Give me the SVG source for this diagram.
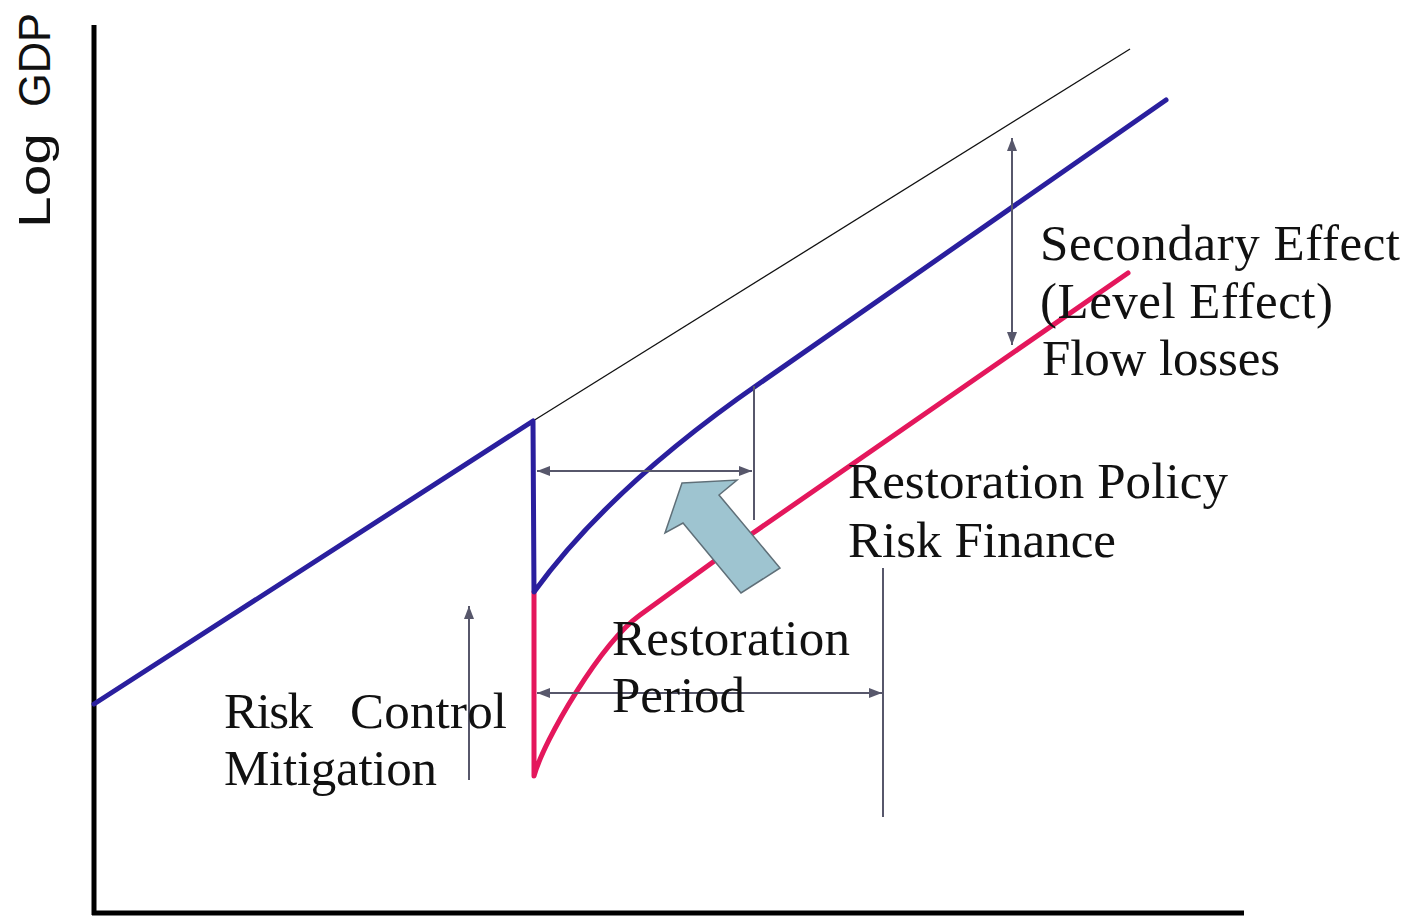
<svg xmlns="http://www.w3.org/2000/svg" width="1406" height="916" viewBox="0 0 1406 916">
<defs>
<style>
.lbl{font-family:"Liberation Serif","Times New Roman",serif;font-size:51px;fill:#111;}
.ax{font-family:"Liberation Sans",Arial,sans-serif;font-size:45px;fill:#111;}
.dim{stroke:#57576b;stroke-width:2;fill:none;}
.blue{stroke:#2a1f9e;stroke-width:5;fill:none;stroke-linejoin:round;stroke-linecap:round;}
.red{stroke:#e4175c;stroke-width:5;fill:none;stroke-linejoin:round;stroke-linecap:round;}
</style>
<marker id="ah" viewBox="0 0 13 10" refX="13" refY="5" markerWidth="13" markerHeight="10" markerUnits="userSpaceOnUse" orient="auto-start-reverse">
<path d="M0,0 L13,5 L0,10 Z" fill="#57576b"/>
</marker>
</defs>
<rect width="1406" height="916" fill="#ffffff"/>
<g id="axes">
<line x1="94" y1="25" x2="94" y2="915" stroke="#000" stroke-width="5"/>
<line x1="92" y1="913" x2="1244" y2="913" stroke="#000" stroke-width="5"/>
<text class="ax" transform="translate(50,228) rotate(-90)" x="0" y="0" textLength="95" lengthAdjust="spacingAndGlyphs">Log</text>
<text class="ax" transform="translate(50,228) rotate(-90)" x="121" y="0" textLength="94" lengthAdjust="spacingAndGlyphs">GDP</text>
</g>
<g id="trend">
<line x1="533" y1="421" x2="1130" y2="49" stroke="#111" stroke-width="1.3"/>
</g>
<g id="red-path">
<path class="red" d="M534,592 L534,776 C544,740 600,644 640,615 L753,533 L1128,273"/>
</g>
<g id="blue-path">
<path class="blue" d="M94,704 L533,421 L534,592 Q610,487 760,383 L1166,100"/>
</g>
<g id="connectors">
<line class="dim" x1="537" y1="471" x2="752" y2="471" marker-start="url(#ah)" marker-end="url(#ah)"/>
<line class="dim" x1="754" y1="386" x2="754" y2="520"/>
<line class="dim" x1="537" y1="693" x2="882" y2="693" marker-start="url(#ah)" marker-end="url(#ah)"/>
<line class="dim" x1="883" y1="568" x2="883" y2="817"/>
<line class="dim" x1="469" y1="780" x2="469" y2="606" marker-end="url(#ah)"/>
<line class="dim" x1="1012" y1="138" x2="1012" y2="345" marker-start="url(#ah)" marker-end="url(#ah)"/>
</g>
<g id="big-arrow">
<polygon points="682,483 737,480 719,495 780,568 741,593 683,523 665,533" fill="#9ec4d0" stroke="#5f6f78" stroke-width="1.5" stroke-linejoin="miter"/>
</g>
<g id="label-secondary">
<text class="lbl" x="1040" y="260" textLength="360">Secondary Effect</text>
<text class="lbl" x="1040" y="318" textLength="293">(Level Effect)</text>
<text class="lbl" x="1042" y="375" textLength="238">Flow losses</text>
</g>
<g id="label-policy">
<text class="lbl" x="848" y="498" textLength="380">Restoration Policy</text>
<text class="lbl" x="848" y="557" textLength="268">Risk Finance</text>
</g>
<g id="label-period">
<text class="lbl" x="612" y="655" textLength="238">Restoration</text>
<text class="lbl" x="612" y="712" textLength="133">Period</text>
</g>
<g id="label-risk">
<text class="lbl" x="224" y="728" textLength="89">Risk</text>
<text class="lbl" x="350" y="728" textLength="157">Control</text>
<text class="lbl" x="224" y="785" textLength="213">Mitigation</text>
</g>
</svg>
